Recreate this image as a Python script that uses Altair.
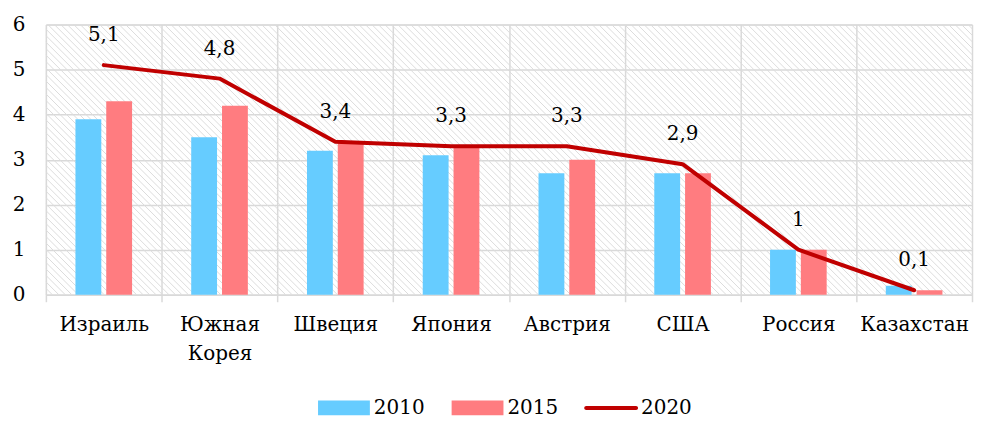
import altair as alt
import numpy as np
import pandas as pd

countries = ["Израиль", "Южная Корея", "Швеция", "Япония", "Австрия", "США", "Россия", "Казахстан"]
v2010 = [3.9, 3.5, 3.2, 3.1, 2.7, 2.7, 1.0, 0.2]
v2015 = [4.3, 4.2, 3.4, 3.3, 3.0, 2.7, 1.0, 0.1]
v2020 = [5.1, 4.8, 3.4, 3.3, 3.3, 2.9, 1.0, 0.1]
years = ["2010", "2015", "2020"]
colors = ["#66CCFF", "#FF7C80", "#C00000"]

PLOT_W = 929
PLOT_H = 271
FONT = "DejaVu Serif"
FS = 20
GRID = "#d9d9d9"

bars_df = pd.DataFrame(
    [{"country": c, "year": "2010", "value": v} for c, v in zip(countries, v2010)]
    + [{"country": c, "year": "2015", "value": v} for c, v in zip(countries, v2015)]
)
line_df = pd.DataFrame({"country": countries, "value": v2020})
line_df["label"] = [("%g" % v).replace(".", ",") for v in v2020]

# decorative diagonal hatch for plot background
t = np.arange(-PLOT_H, PLOT_W + 10, 6.5)
hatch_df = pd.DataFrame({"x": t, "y": PLOT_H, "x2": t + PLOT_H, "y2": 0})

xscale = alt.Scale(domain=countries, paddingInner=0, paddingOuter=0)
xaxis = alt.Axis(
    title=None, labelAngle=0, tickBand="extent", grid=True, gridColor=GRID, gridWidth=1.5,
    domainColor=GRID, domainWidth=1.5, tickColor=GRID, tickWidth=1.5, tickSize=7,
    labelFont=FONT, labelFontSize=FS, labelColor="black", labelPadding=13,
    labelExpr="split(datum.label, ' ')", labelLineHeight=29,
)
yscale = alt.Scale(domain=[0, 6], nice=False)
yaxis = alt.Axis(
    title=None, values=[0, 1, 2, 3, 4, 5, 6], grid=True, gridColor=GRID, gridWidth=1.5,
    domain=False, ticks=False, labelFont=FONT, labelFontSize=FS, labelColor="black",
    labelPadding=21,
)

hatch = alt.Chart(hatch_df).mark_rule(color="#dcdcdc", strokeWidth=1, clip=True).encode(
    x=alt.X("x:Q", scale=alt.Scale(domain=[0, PLOT_W], nice=False, zero=False), axis=None),
    x2="x2:Q",
    y=alt.Y("y:Q", scale=alt.Scale(domain=[0, PLOT_H], nice=False, zero=False), axis=None),
    y2="y2:Q",
)

bars = alt.Chart(bars_df).mark_bar().encode(
    x=alt.X("country:N", scale=xscale, axis=xaxis, sort=countries),
    xOffset=alt.XOffset("year:N", scale=alt.Scale(paddingInner=0.161, paddingOuter=0.96)),
    y=alt.Y("value:Q", scale=yscale, axis=yaxis),
    color=alt.Color("year:N", scale=alt.Scale(domain=years, range=colors), legend=None),
)

line = alt.Chart(line_df).mark_line(color="#C00000", strokeWidth=4, strokeCap="round", strokeJoin="round").encode(
    x=alt.X("country:N", scale=xscale, axis=xaxis, sort=countries),
    y=alt.Y("value:Q", scale=yscale, axis=yaxis),
)

labels = alt.Chart(line_df).mark_text(font=FONT, fontSize=FS, color="black", dy=-30, baseline="middle").encode(
    x=alt.X("country:N", scale=xscale, axis=xaxis, sort=countries),
    y=alt.Y("value:Q", scale=yscale, axis=yaxis),
    text="label:N",
)

data_layer = alt.layer(bars, line, labels)
main = alt.layer(hatch, data_layer).resolve_scale(
    x="independent", y="independent"
).properties(width=PLOT_W, height=PLOT_H)

# legend
leg_df = pd.DataFrame({"year": years})
lscale = alt.Scale(domain=years, paddingInner=0, paddingOuter=0, range=[269, 671])
lx = alt.X("year:N", scale=lscale, axis=None)
lcolor = alt.Color("year:N", scale=alt.Scale(domain=years, range=colors), legend=None)
leg_rect = alt.Chart(leg_df).transform_filter("datum.year != '2020'").mark_bar(width=52, xOffset=-37).encode(
    x=lx, y=alt.value(0), y2=alt.value(15), color=lcolor
)
leg_line = alt.Chart(leg_df).transform_filter("datum.year == '2020'").mark_bar(width=54, xOffset=-37, cornerRadius=2).encode(
    x=lx, y=alt.value(5.5), y2=alt.value(9.5), color=lcolor
)
leg_text = alt.Chart(leg_df).mark_text(font=FONT, fontSize=FS, color="black", align="left", baseline="middle", dx=-7).encode(
    x=lx, y=alt.value(8), text="year:N"
)
legend = alt.layer(leg_rect, leg_line, leg_text).properties(
    width=PLOT_W, height=15, view=alt.ViewBackground(stroke="transparent", fill="transparent")
)

chart = alt.vconcat(main, legend, spacing=33).properties(
    padding={"left": 3, "top": 5, "right": 0, "bottom": 0}
).configure_view(strokeWidth=0, stroke="transparent").configure(background="white")

chart.save("out.html", embed_options={"renderer": "svg", "actions": False})
